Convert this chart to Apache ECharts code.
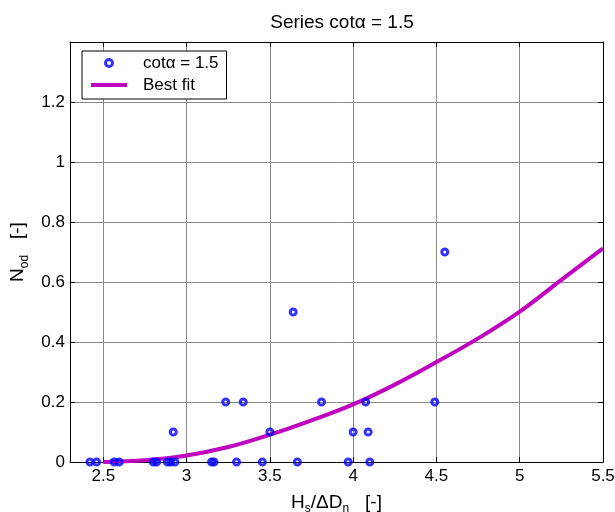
<!DOCTYPE html>
<html>
<head>
<meta charset="utf-8">
<script src="https://cdn.jsdelivr.net/npm/echarts@6/dist/echarts.min.js"></script>
<style>
  html, body { margin: 0; padding: 0; background: #ffffff; }
  #chart { width: 615px; height: 512px; }
</style>
</head>
<body>
<div id="chart"></div>
<script>
// Measured damage N_od against stability number H_s/ΔD_n (cotα = 1.5)
const obsX = [2.42, 2.46, 2.565, 2.595, 2.80, 2.82, 2.885, 2.905, 2.93, 3.15, 3.165, 3.30, 3.455, 3.665, 3.97, 4.10,
              2.92, 3.50, 4.00, 4.09,
              3.235, 3.34, 3.81, 4.075, 4.49,
              3.64, 4.55];
const obsY = [0, 0, 0, 0, 0, 0, 0, 0, 0, 0, 0, 0, 0, 0, 0, 0,
              0.1, 0.1, 0.1, 0.1,
              0.2, 0.2, 0.2, 0.2, 0.2,
              0.5, 0.7];

// Best-fit curve, sampled along the stability number
const fitX = [2.5, 2.75, 3.0, 3.25, 3.5, 3.75, 4.0, 4.25, 4.5, 4.75, 5.0, 5.25, 5.5];
const fitY = [0, 0.006, 0.022, 0.05, 0.091, 0.139, 0.192, 0.258, 0.333, 0.412, 0.501, 0.607, 0.712];

// Axis ticks
const xTicks = [2.5, 3, 3.5, 4, 4.5, 5, 5.5];
const yTickLabels = [0, 0.2, 0.4, 0.6, 0.8, 1, 1.2];

const FONT = "'Liberation Sans', Arial, Helvetica, sans-serif";
const GRID_COLOR = '#8a8a8a';
const FIT_COLOR = '#bf00bf';
const PT_COLOR = '#0000ff';

const scatterData = obsX.map((x, i) => [x, obsY[i]]);
const fitData = fitX.map((x, i) => [x, fitY[i]]);

const chart = echarts.init(document.getElementById('chart'), null, { renderer: 'canvas' });

const xBase = {
  type: 'value', min: 2.3, max: 5.5,
  axisLine: { show: true, onZero: false, lineStyle: { color: '#000', width: 1 } },
  axisTick: { show: true, inside: true, length: 5, customValues: xTicks, lineStyle: { color: '#000' } },
};
const yBase = {
  type: 'value', min: 0, max: 1.4, interval: 0.2,
  axisLine: { show: true, onZero: false, lineStyle: { color: '#000', width: 1 } },
  axisTick: { show: true, inside: true, length: 5, lineStyle: { color: '#000' } },
};

const nameRich = {
  m: { fontFamily: FONT, fontSize: 19, color: '#000', lineHeight: 24 },
  s: { fontFamily: FONT, fontSize: 12, color: '#000', lineHeight: 24, padding: [13, 0, 0, 0] }
};

chart.setOption({
  backgroundColor: '#ffffff',
  animation: false,
  title: {
    text: 'Series cot\u03b1 = 1.5',
    left: 337, top: 8, textAlign: 'center',
    textStyle: { fontFamily: FONT, fontSize: 19, fontWeight: 'normal', color: '#000' }
  },
  grid: { left: 70, right: 12, top: 42, bottom: 50, containLabel: false, outerBoundsMode: 'none' },
  legend: {
    orient: 'vertical',
    left: 82, top: 51,
    padding: [2, 8, 4, 9],
    itemGap: 2,
    itemWidth: 36, itemHeight: 7,
    backgroundColor: '#ffffff',
    borderColor: '#000', borderWidth: 1, borderRadius: 0,
    selectedMode: false,
    textStyle: { fontFamily: FONT, fontSize: 17, color: '#000', lineHeight: 20, padding: [0, 0, 0, 11] },
    data: [
      { name: 'cot\u03b1 = 1.5', itemStyle: { color: 'rgba(255,255,255,0)', borderColor: PT_COLOR, borderWidth: 3 } },
      { name: 'Best fit', icon: 'path://M0,0 L36,0 L36,4 L0,4 Z', itemStyle: { color: FIT_COLOR, borderWidth: 0 } }
    ]
  },
  xAxis: [
    Object.assign({}, xBase, {
      position: 'bottom',
      name: '{m|H}{s|s}{m|/\u0394D}{s|n}{m|   [-]}',
      nameLocation: 'middle', nameGap: 19,
      nameTextStyle: { fontFamily: FONT, color: '#000', rich: nameRich },
      axisLabel: { show: true, customValues: xTicks, margin: 6, fontFamily: FONT, fontSize: 17, color: '#000' },
      splitLine: { show: true, lineStyle: { color: GRID_COLOR, width: 1 } }
    }),
    Object.assign({}, xBase, {
      position: 'top',
      axisLabel: { show: false },
      splitLine: { show: false }
    })
  ],
  yAxis: [
    Object.assign({}, yBase, {
      position: 'left',
      name: '{m|N}{s|od}{m|   [-]}',
      nameLocation: 'middle', nameGap: 32, nameRotate: 90,
      nameTextStyle: { fontFamily: FONT, color: '#000', rich: nameRich },
      axisLabel: {
        show: true, margin: 5, fontFamily: FONT, fontSize: 17, color: '#000',
        formatter: v => (yTickLabels.some(t => Math.abs(t - v) < 1e-9) ? String(+v.toFixed(1)) : '')
      },
      splitLine: { show: true, lineStyle: { color: GRID_COLOR, width: 1 } }
    }),
    Object.assign({}, yBase, {
      position: 'right',
      axisLabel: { show: false },
      splitLine: { show: false }
    })
  ],
  series: [
    {
      name: 'Best fit',
      type: 'line',
      xAxisIndex: 0, yAxisIndex: 0,
      data: fitData,
      smooth: 0.4,
      showSymbol: false,
      symbol: 'none',
      lineStyle: { color: FIT_COLOR, width: 4 },
      itemStyle: { color: FIT_COLOR },
      z: 2
    },
    {
      name: 'cot\u03b1 = 1.5',
      type: 'scatter',
      xAxisIndex: 0, yAxisIndex: 0,
      data: scatterData,
      symbol: 'circle',
      symbolSize: 6,
      itemStyle: { color: 'rgba(255,255,255,0)', borderColor: PT_COLOR, borderWidth: 3 },
      z: 3
    }
  ]
});
</script>
</body>
</html>
